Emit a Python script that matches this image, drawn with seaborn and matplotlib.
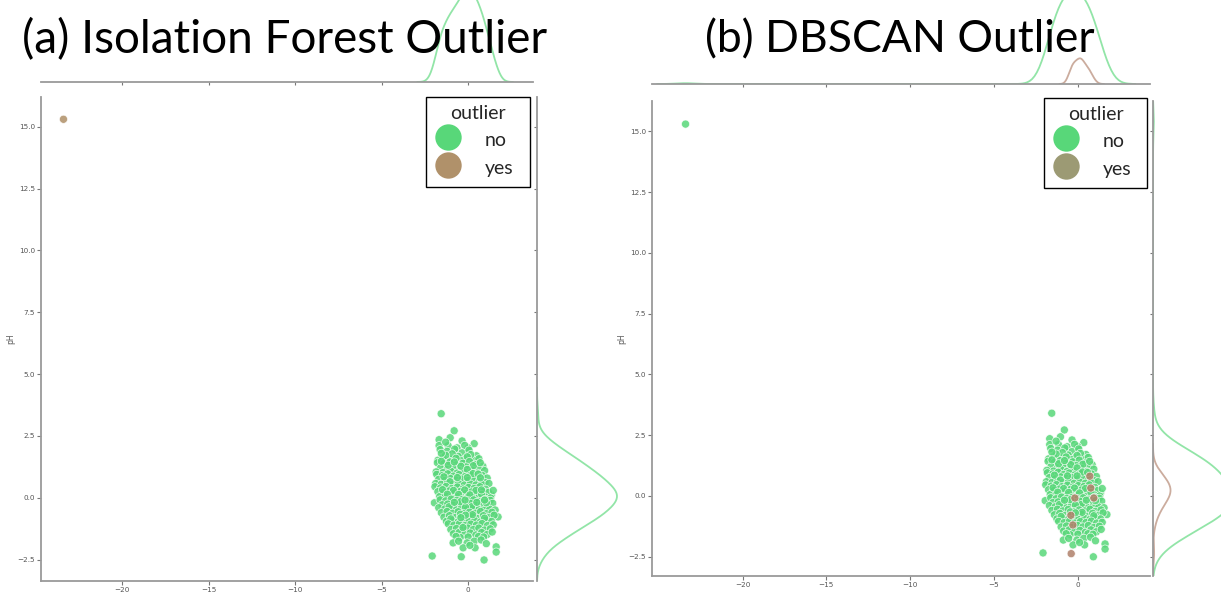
import matplotlib
matplotlib.use("Agg")
import matplotlib.pyplot as plt
import pandas as pd
import seaborn as sns
from matplotlib.lines import Line2D

sns.set_theme(style="ticks")
plt.rcParams['font.family'] = ['DejaVu Sans']

# ---------------- data ----------------
titles = ["(a) Isolation Forest Outlier", "(b) DBSCAN Outlier"]
legend_title = "outlier"
hue_levels = ["no", "yes"]
x_ticks = [-20, -15, -10, -5, 0]
y_ticks = [-2.5, 0.0, 2.5, 5.0, 7.5, 10.0, 12.5, 15.0]
y_label = "pH"

far_point = [(-23.4, 15.3)]

band_top = [(-1.56, 3.40), (-0.81, 2.71), (-1.04, 2.43), (-1.68, 2.35), (-1.68, 2.11),
            (-1.16, 2.11), (0.35, 2.19), (0.00, 2.02), (-0.64, 2.02), (-0.35, 2.30),
            (-1.30, 2.25), (-0.20, 2.12)]
band_a = [(-1.62, 1.95), (-1.21, 1.88), (-0.78, 1.97), (-0.35, 1.82), (0.05, 1.93),
          (0.48, 1.70), (-1.45, 1.62), (-1.02, 1.55), (-0.58, 1.68), (-0.15, 1.58),
          (0.30, 1.52), (-1.75, 1.52), (-0.92, 1.78), (-0.40, 1.50), (0.15, 1.75),
          (-1.30, 1.72), (0.62, 1.58), (-0.70, 1.60), (-1.55, 1.80), (-0.05, 1.66)]
band_b = [(-1.78, 1.42), (-1.40, 1.38), (-1.05, 1.45), (-0.70, 1.33), (-0.30, 1.40),
          (0.08, 1.47), (0.45, 1.35), (0.85, 1.28), (-1.60, 1.20), (-1.22, 1.15),
          (-0.88, 1.22), (-0.50, 1.10), (-0.12, 1.25), (0.25, 1.12), (0.62, 1.18),
          (-1.85, 1.05), (-1.45, 1.02), (-1.00, 1.08), (-0.65, 1.00), (-0.25, 1.05),
          (0.15, 1.02), (0.52, 1.00), (0.95, 1.10), (-1.15, 1.32), (-0.42, 1.28),
          (0.30, 1.30), (-0.80, 1.45), (-1.55, 1.48), (0.70, 1.42), (-0.05, 1.15)]
band_c = [(-1.82, 0.95), (-1.50, 0.90), (-1.18, 0.97), (-0.85, 0.88), (-0.52, 0.94),
          (-0.18, 0.86), (0.15, 0.92), (0.48, 0.85), (0.82, 0.90), (1.10, 0.80),
          (-1.70, 0.75), (-1.35, 0.70), (-1.02, 0.78), (-0.70, 0.72), (-0.35, 0.76),
          (0.00, 0.70), (0.32, 0.74), (0.65, 0.68), (0.98, 0.62), (-1.88, 0.58),
          (-1.55, 0.55), (-1.20, 0.60), (-0.88, 0.55), (-0.55, 0.58), (-0.22, 0.52),
          (0.12, 0.56), (0.45, 0.52), (0.78, 0.55), (1.20, 0.58), (-1.40, 0.85),
          (-0.62, 0.82), (0.28, 0.98), (-0.05, 0.82), (0.58, 0.96), (-1.05, 0.65)]
band_d = [(-1.92, 0.45), (-1.60, 0.40), (-1.28, 0.46), (-0.95, 0.38), (-0.62, 0.44),
          (-0.30, 0.36), (0.02, 0.42), (0.35, 0.38), (0.68, 0.45), (1.00, 0.35),
          (1.35, 0.12), (-1.75, 0.25), (-1.42, 0.22), (-1.10, 0.28), (-0.78, 0.20),
          (-0.45, 0.26), (-0.12, 0.18), (0.20, 0.24), (0.52, 0.20), (0.85, 0.26),
          (1.18, 0.22), (-1.65, 0.05), (-1.30, 0.08), (-0.98, 0.02), (-0.65, 0.06),
          (-0.32, 0.00), (0.00, 0.05), (0.32, 0.02), (0.65, 0.08), (0.98, 0.04),
          (1.30, 0.00), (-1.48, 0.33), (-0.85, 0.30), (-0.20, 0.32), (0.45, 0.30),
          (0.10, 0.12), (-0.55, 0.14), (0.78, 0.14), (-1.20, 0.15), (1.45, 0.30)]
band_e = [(-1.95, -0.20), (-1.62, -0.08), (-1.30, -0.12), (-0.98, -0.05), (-0.65, -0.10),
          (-0.32, -0.06), (0.00, -0.12), (0.32, -0.08), (0.65, -0.14), (0.98, -0.06),
          (1.28, -0.10), (-1.50, -0.28), (-1.18, -0.25), (-0.85, -0.30), (-0.52, -0.24),
          (-0.20, -0.28), (0.12, -0.22), (0.45, -0.30), (0.78, -0.25), (1.10, -0.32),
          (1.42, -0.22), (-1.70, -0.40), (-1.35, -0.45), (-1.02, -0.42), (-0.70, -0.48),
          (-0.38, -0.40), (-0.05, -0.46), (0.28, -0.42), (0.60, -0.48), (0.92, -0.40),
          (1.25, -0.46), (1.56, -0.49), (-0.45, -0.16), (0.20, -0.36), (0.85, -0.18),
          (-1.10, -0.36), (-0.15, -0.38), (0.50, -0.18), (1.05, -0.20), (-0.80, -0.18)]
band_f = [(-1.55, -0.60), (-1.22, -0.55), (-0.90, -0.62), (-0.58, -0.56), (-0.25, -0.64),
          (0.08, -0.58), (0.40, -0.62), (0.72, -0.55), (1.05, -0.64), (1.38, -0.58),
          (1.73, -0.77), (-1.40, -0.78), (-1.08, -0.72), (-0.75, -0.80), (-0.42, -0.74),
          (-0.10, -0.82), (0.22, -0.76), (0.55, -0.84), (0.88, -0.72), (1.20, -0.80),
          (1.50, -0.70), (-1.25, -0.95), (-0.92, -0.92), (-0.60, -0.98), (-0.28, -0.90),
          (0.05, -0.96), (0.38, -0.92), (0.70, -0.98), (1.02, -0.90), (1.35, -0.95),
          (-0.45, -0.66), (0.25, -0.68), (-0.15, -0.70), (0.95, -0.82), (-1.00, -0.85)]
band_g = [(-1.15, -1.05), (-0.82, -1.10), (-0.50, -1.04), (-0.18, -1.12), (0.15, -1.06),
          (0.48, -1.10), (0.80, -1.04), (1.12, -1.12), (1.45, -1.09), (-1.00, -1.28),
          (-0.68, -1.24), (-0.35, -1.30), (-0.02, -1.22), (0.30, -1.28), (0.62, -1.22),
          (0.95, -1.30), (1.28, -1.25), (-0.85, -1.45), (-0.52, -1.40), (-0.20, -1.48),
          (0.12, -1.42), (0.45, -1.50), (0.78, -1.40), (1.10, -1.48), (1.39, -1.38),
          (-0.46, -1.60), (0.00, -1.58), (0.60, -1.56), (-0.70, -1.56), (0.90, -1.58)]
band_h = [(-0.06, -1.82), (-0.87, -1.82), (0.35, -1.75), (0.75, -1.70), (-0.29, -2.02),
          (0.40, -2.02), (1.62, -1.98), (1.62, -2.19), (-2.08, -2.35), (0.92, -2.51),
          (0.10, -1.92), (-0.55, -1.75), (1.05, -1.85)]

# points that DBSCAN marks as outliers (inside the cluster)
dbscan_yes_hidden = [(0.10, 0.20), (0.25, 0.55), (-0.05, 0.45), (0.40, 0.05), (-0.20, 0.30),
                     (0.05, -0.30), (0.30, -0.45), (0.55, 0.60), (0.15, 0.90), (-0.35, 0.65),
                     (0.60, -0.20), (-0.10, 0.05), (0.20, -0.10), (0.45, 0.35), (0.00, 0.70),
                     (-0.25, -0.50), (0.35, 1.05), (0.10, -0.65), (0.65, 0.15), (-0.50, 0.15),
                     (0.20, 0.40)]
dbscan_yes_visible = [(0.71, 0.81), (0.77, 0.32), (0.95, -0.09), (-0.18, -0.09),
                      (-0.42, -0.80), (-0.30, -1.20), (-0.40, -2.38)]

# ---------------- build the table ----------------
def frame(pairs, lab_a, lab_b):
    return pd.DataFrame({"x": [p[0] for p in pairs], "y": [p[1] for p in pairs],
                         "iforest": lab_a, "dbscan": lab_b})

cluster = band_top + band_a + band_b + band_c + band_d + band_e + band_f + band_g + band_h
df = pd.concat([frame(far_point, "yes", "no"),
                frame(dbscan_yes_hidden, "no", "yes"),
                frame(cluster, "no", "no"),
                frame(dbscan_yes_visible, "no", "yes")], ignore_index=True)

# ---------------- figure ----------------
W, H = 1221, 594
fig = plt.figure(figsize=(W / 100, H / 100), dpi=100)
fig.patch.set_facecolor("white")


def add_ax(l, t, r, b):
    return fig.add_axes([l / W, 1 - b / H, (r - l) / W, (b - t) / H])


GREEN = "#58d779"
panels = [
    dict(col="iforest", title=titles[0], tx=285, tsize=33,
         main=(41, 97, 533, 581), top=(41, -15, 533, 82), right=(537, 97, 621, 581),
         xlim=(-24.7, 3.75), ylim=(-3.36, 16.2),
         leg_box=(426, 97, 530),
         pal={"no": GREEN, "yes": "#b09068"}, leg_cols=[GREEN, "#b0916a"]),
    dict(col="dbscan", title=titles[1], tx=900, tsize=32,
         main=(652, 101, 1150, 576), top=(652, -13, 1150, 84), right=(1153, 101, 1237, 576),
         xlim=(-25.4, 4.3), ylim=(-3.3, 16.25),
         leg_box=(1044, 98, 1147),
         pal={"no": GREEN, "yes": "#b0806a"}, leg_cols=[GREEN, "#9c9a74"]),
]

SPINE = "#9a9a9a"
for p in panels:
    ax = add_ax(*p["main"])
    ax_t = add_ax(*p["top"])
    ax_r = add_ax(*p["right"])

    sns.scatterplot(data=df, x="x", y="y", hue=p["col"], hue_order=hue_levels,
                    palette=p["pal"], s=34, alpha=0.85, edgecolor="white",
                    linewidth=0.5, ax=ax, legend=False)
    sns.kdeplot(data=df, x="x", hue=p["col"], hue_order=hue_levels, palette=p["pal"],
                common_norm=True, fill=False, linewidth=1.3, alpha=0.65,
                ax=ax_t, legend=False, warn_singular=False)
    sns.kdeplot(data=df, y="y", hue=p["col"], hue_order=hue_levels, palette=p["pal"],
                common_norm=True, fill=False, linewidth=1.3, alpha=0.65,
                ax=ax_r, legend=False, warn_singular=False)

    ax.set_xlim(*p["xlim"])
    ax.set_ylim(*p["ylim"])
    ax.set_xticks(x_ticks)
    ax.set_yticks(y_ticks)
    ax.set_xlabel("")
    ax.set_ylabel(y_label, fontsize=5.5, color="#555555", labelpad=2)
    ax.tick_params(labelsize=5.2, colors="#777777", labelcolor="#555555",
                   length=3, width=0.8, pad=1.2)
    for s in ["top", "right"]:
        ax.spines[s].set_visible(False)
    for s in ["left", "bottom"]:
        ax.spines[s].set_color(SPINE)
        ax.spines[s].set_linewidth(1.3)

    ax_t.set_xlim(*p["xlim"])
    ax_t.set_ylim(bottom=0)
    ax_t.set_xticks(x_ticks)
    ax_t.set_yticks([])
    ax_t.tick_params(labelbottom=False, length=2.5, width=0.8, colors="#777777")
    ax_t.set_xlabel("")
    ax_t.set_ylabel("")
    for s in ["top", "right", "left"]:
        ax_t.spines[s].set_visible(False)
    ax_t.spines["bottom"].set_color(SPINE)
    ax_t.spines["bottom"].set_linewidth(1.3)
    ax_t.patch.set_alpha(0)

    ax_r.set_ylim(*p["ylim"])
    ax_r.set_xlim(left=0)
    ax_r.set_yticks(y_ticks)
    ax_r.set_xticks([])
    ax_r.tick_params(labelleft=False, length=2.5, width=0.8, colors="#777777")
    ax_r.set_xlabel("")
    ax_r.set_ylabel("")
    for s in ["top", "right", "bottom"]:
        ax_r.spines[s].set_visible(False)
    ax_r.spines["left"].set_color(SPINE)
    ax_r.spines["left"].set_linewidth(1.3)
    ax_r.patch.set_alpha(0)

    # legend box position (pixels -> axes coordinates)
    l, t, b = p["main"][0], p["main"][1], p["main"][3]
    r_ = p["main"][2]
    bx0, btop, bx1 = p["leg_box"]
    ax_w, ax_h = r_ - l, b - t
    x0 = (bx0 - l) / ax_w
    w = (bx1 - bx0) / ax_w
    ytop = (b - btop) / ax_h

    handles = [Line2D([], [], marker="o", linestyle="", markersize=19,
                      markerfacecolor=c, markeredgecolor="none") for c in p["leg_cols"]]
    leg = ax.legend(handles=handles, labels=hue_levels, title=legend_title,
                    loc="upper right", bbox_to_anchor=(x0, 0, w, ytop), mode="expand",
                    frameon=True, fancybox=False,
                    prop={"family": "Lato", "size": 14},
                    title_fontproperties={"family": "Lato", "size": 14},
                    borderaxespad=0.0, borderpad=0.42, labelspacing=0.3,
                    handlelength=1.4, handleheight=1.4, handletextpad=1.2,
                    framealpha=1)
    leg.get_frame().set_edgecolor("black")
    leg.get_frame().set_linewidth(1.0)

    fig.text(p["tx"] / W, 1 - 40 / H, p["title"], fontsize=p["tsize"], family="Lato",
             ha="center", va="center", color="black")

fig.savefig("out.png", dpi=100)
